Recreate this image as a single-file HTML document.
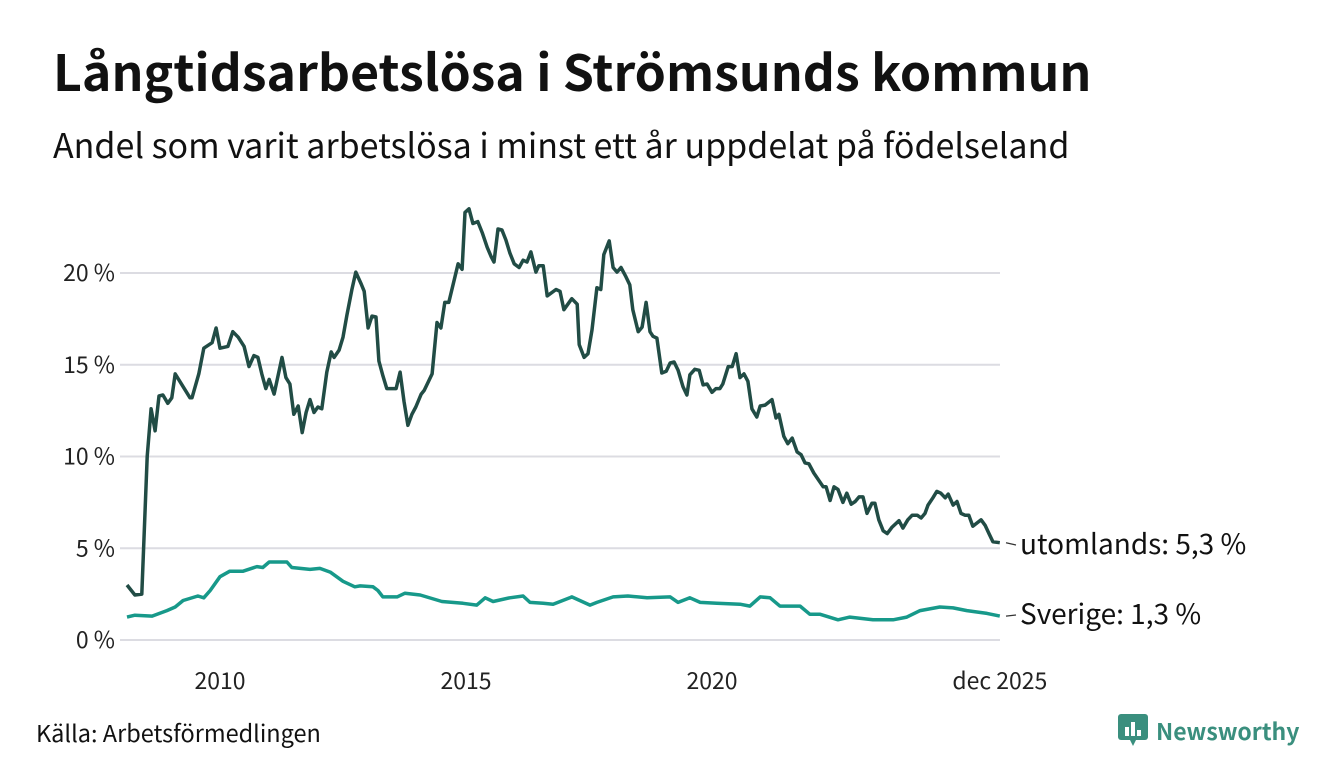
<!DOCTYPE html>
<html><head><meta charset="utf-8"><style>
body{margin:0;background:#fff;width:1340px;height:780px;overflow:hidden;font-family:"Noto Sans CJK JP","Liberation Sans",sans-serif;}
#title{position:absolute;left:53px;top:42px;font-size:50px;line-height:56px;font-weight:bold;color:#111;white-space:nowrap}
#sub{position:absolute;left:53px;top:124px;font-size:34px;line-height:40px;color:#111;white-space:nowrap}
#src{position:absolute;left:36px;top:717px;font-size:23.5px;line-height:30px;color:#111}
#logo{position:absolute;left:1118px;top:714px;display:flex;align-items:center;gap:8px;font-size:23px;line-height:30px;font-weight:bold;color:#3a8f7e}
svg{position:absolute;left:0;top:0}
svg text{font-family:"Noto Sans CJK JP","Liberation Sans",sans-serif}
</style></head><body>
<div id="title">Långtidsarbetslösa i Strömsunds kommun</div>
<div id="sub">Andel som varit arbetslösa i minst ett år uppdelat på födelseland</div>
<div id="src">Källa: Arbetsförmedlingen</div>
<div id="logo"><svg style="position:static" width="30" height="32" viewBox="0 0 30 32"><rect x="0" y="0" width="30" height="26" rx="3" fill="#3a8f7e"/><polygon points="12,26 18,26 15,32" fill="#3a8f7e"/><rect x="7" y="13" width="4" height="9" fill="#fff"/><rect x="13" y="8" width="4" height="14" fill="#fff"/><rect x="19" y="16" width="4" height="6" fill="#fff"/></svg><span>Newsworthy</span></div>
<svg id="chart" width="1340" height="780"></svg>
<script>
const yTicks=[0,5,10,15,20];
const yTickLabels=["0 %","5 %","10 %","15 %","20 %"];
const xTicks=[2010,2015,2020,2025.85];
const xTickLabels=["2010","2015","2020","dec 2025"];
const utDates=[2008.11,2008.27,2008.41,2008.52,2008.60,2008.68,2008.76,2008.84,2008.94,2009.02,2009.09,2009.39,2009.43,2009.57,2009.67,2009.84,2009.92,2010.00,2010.16,2010.26,2010.37,2010.49,2010.59,2010.69,2010.77,2010.85,2010.93,2011.00,2011.10,2011.26,2011.34,2011.42,2011.50,2011.59,2011.67,2011.75,2011.83,2011.91,2011.99,2012.07,2012.17,2012.26,2012.32,2012.42,2012.50,2012.58,2012.68,2012.76,2012.87,2012.93,2013.01,2013.09,2013.17,2013.23,2013.31,2013.39,2013.58,2013.66,2013.74,2013.82,2013.90,2013.98,2014.09,2014.15,2014.31,2014.41,2014.49,2014.57,2014.65,2014.84,2014.92,2014.98,2015.06,2015.14,2015.24,2015.33,2015.43,2015.51,2015.57,2015.65,2015.73,2015.81,2015.89,2015.98,2016.08,2016.16,2016.24,2016.32,2016.42,2016.48,2016.57,2016.65,2016.83,2016.91,2016.99,2017.15,2017.26,2017.30,2017.40,2017.48,2017.56,2017.66,2017.74,2017.80,2017.91,2017.99,2018.07,2018.15,2018.25,2018.33,2018.39,2018.50,2018.58,2018.66,2018.74,2018.80,2018.88,2018.98,2019.07,2019.15,2019.23,2019.31,2019.41,2019.49,2019.55,2019.65,2019.74,2019.82,2019.90,2020.00,2020.08,2020.16,2020.22,2020.33,2020.41,2020.49,2020.57,2020.65,2020.73,2020.81,2020.91,2020.98,2021.08,2021.22,2021.30,2021.36,2021.46,2021.54,2021.63,2021.73,2021.81,2021.89,2021.97,2022.07,2022.26,2022.32,2022.40,2022.48,2022.56,2022.66,2022.74,2022.83,2022.91,2022.99,2023.07,2023.15,2023.25,2023.31,2023.39,2023.48,2023.56,2023.66,2023.80,2023.88,2023.98,2024.07,2024.17,2024.25,2024.33,2024.39,2024.49,2024.57,2024.65,2024.74,2024.80,2024.90,2024.98,2025.06,2025.14,2025.22,2025.30,2025.47,2025.55,2025.63,2025.71,2025.85];
const utValues=[3.0,2.45,2.5,10.0,12.6,11.4,13.3,13.35,12.9,13.2,14.5,13.2,13.2,14.5,15.9,16.2,17.0,15.9,16.0,16.8,16.5,16.0,14.9,15.5,15.4,14.5,13.7,14.2,13.4,15.4,14.3,13.95,12.3,12.75,11.3,12.4,13.1,12.4,12.7,12.6,14.6,15.7,15.4,15.8,16.5,17.7,19.1,20.05,19.4,19.0,17.0,17.65,17.6,15.2,14.4,13.7,13.7,14.6,13.0,11.7,12.3,12.7,13.4,13.6,14.5,17.3,17.0,18.4,18.4,20.5,20.2,23.3,23.5,22.7,22.8,22.2,21.4,20.9,20.6,22.4,22.35,21.8,21.1,20.5,20.3,20.7,20.6,21.15,20.05,20.4,20.4,18.75,19.1,19.0,18.0,18.6,18.3,16.1,15.4,15.6,16.9,19.2,19.1,21.0,21.75,20.3,20.05,20.3,19.8,19.35,18.0,16.8,17.05,18.4,16.8,16.55,16.45,14.55,14.65,15.1,15.15,14.7,13.8,13.35,14.45,14.75,14.7,13.9,13.95,13.5,13.7,13.7,13.95,14.9,14.9,15.6,14.3,14.5,14.1,12.6,12.15,12.75,12.8,13.1,12.1,12.3,11.1,10.7,11.0,10.25,10.1,9.65,9.6,9.1,8.35,8.35,7.6,8.35,8.2,7.5,8.0,7.4,7.55,7.8,7.8,6.9,7.45,7.45,6.55,5.95,5.8,6.15,6.5,6.1,6.55,6.8,6.8,6.65,6.9,7.35,7.75,8.1,8.0,7.75,7.95,7.35,7.55,6.9,6.8,6.8,6.2,6.55,6.25,5.8,5.35,5.3];
const svDates=[2008.11,2008.27,2008.62,2008.92,2009.09,2009.25,2009.55,2009.67,2009.80,2010.00,2010.20,2010.47,2010.75,2010.87,2011.00,2011.36,2011.46,2011.83,2012.03,2012.24,2012.50,2012.74,2012.85,2013.11,2013.21,2013.31,2013.60,2013.76,2014.07,2014.51,2014.94,2015.22,2015.39,2015.55,2015.89,2016.16,2016.30,2016.57,2016.77,2017.11,2017.15,2017.52,2017.66,2017.99,2018.29,2018.68,2019.15,2019.31,2019.55,2019.76,2020.10,2020.57,2020.77,2020.98,2021.18,2021.38,2021.79,2021.99,2022.20,2022.56,2022.80,2023.27,2023.68,2023.96,2024.23,2024.63,2024.90,2025.18,2025.59,2025.85];
const svValues=[1.25,1.35,1.3,1.6,1.8,2.15,2.4,2.3,2.7,3.45,3.75,3.75,4.0,3.95,4.25,4.25,3.95,3.85,3.9,3.7,3.2,2.9,2.95,2.9,2.7,2.35,2.35,2.55,2.45,2.1,2.0,1.9,2.3,2.1,2.3,2.4,2.05,2.0,1.95,2.3,2.35,1.9,2.05,2.35,2.4,2.3,2.35,2.05,2.3,2.05,2.0,1.95,1.85,2.35,2.3,1.85,1.85,1.4,1.4,1.1,1.25,1.1,1.1,1.25,1.6,1.8,1.75,1.6,1.45,1.3];
const NS="http://www.w3.org/2000/svg";
const svg=document.getElementById('chart');
const X=d=>220+(d-2010)*49.2;
const Y=v=>640-v*18.35;
function mk(t,a){const e=document.createElementNS(NS,t);for(const k in a)e.setAttribute(k,a[k]);svg.appendChild(e);return e;}
yTicks.forEach((v,i)=>{
 const g=mk('line',{x1:120,x2:1000,y1:Y(v),y2:Y(v),stroke:'#dcdce2','stroke-width':2});
 
 
 const t=mk('text',{x:115,y:Y(v)+8,'text-anchor':'end','font-size':23,fill:'#222'});
 t.textContent=yTickLabels[i];
 
 
});
xTicks.forEach((d,i)=>{
 const t=mk('text',{x:X(d),y:689,'text-anchor':'middle','font-size':23,fill:'#222'});
 t.textContent=xTickLabels[i];
 
 
});
function line(ds,vs,col,name){
 const p=ds.map((d,i)=>X(d).toFixed(1)+','+Y(vs[i]).toFixed(1)).join(' ');
 const l=mk('polyline',{points:p,fill:'none',stroke:col,'stroke-width':3.5,'stroke-linejoin':'round'});
 
 
}
line(svDates,svValues,'#17998a','sverige-line');
line(utDates,utValues,'#214c45','utomlands-line');
function endLabel(v,txt,name,ty){
 const c=mk('line',{x1:1006,y1:Y(v),x2:1016,y2:ty,stroke:'#333','stroke-width':1.2});
 
 
 const t=mk('text',{x:1020,y:ty+9,'font-size':28,fill:'#111'});
 t.textContent=txt;
 
 
}
endLabel(utValues[utValues.length-1],'utomlands: 5,3 %','utomlands-label',545);
endLabel(svValues[svValues.length-1],'Sverige: 1,3 %','sverige-label',615);
</script>
</body></html>
